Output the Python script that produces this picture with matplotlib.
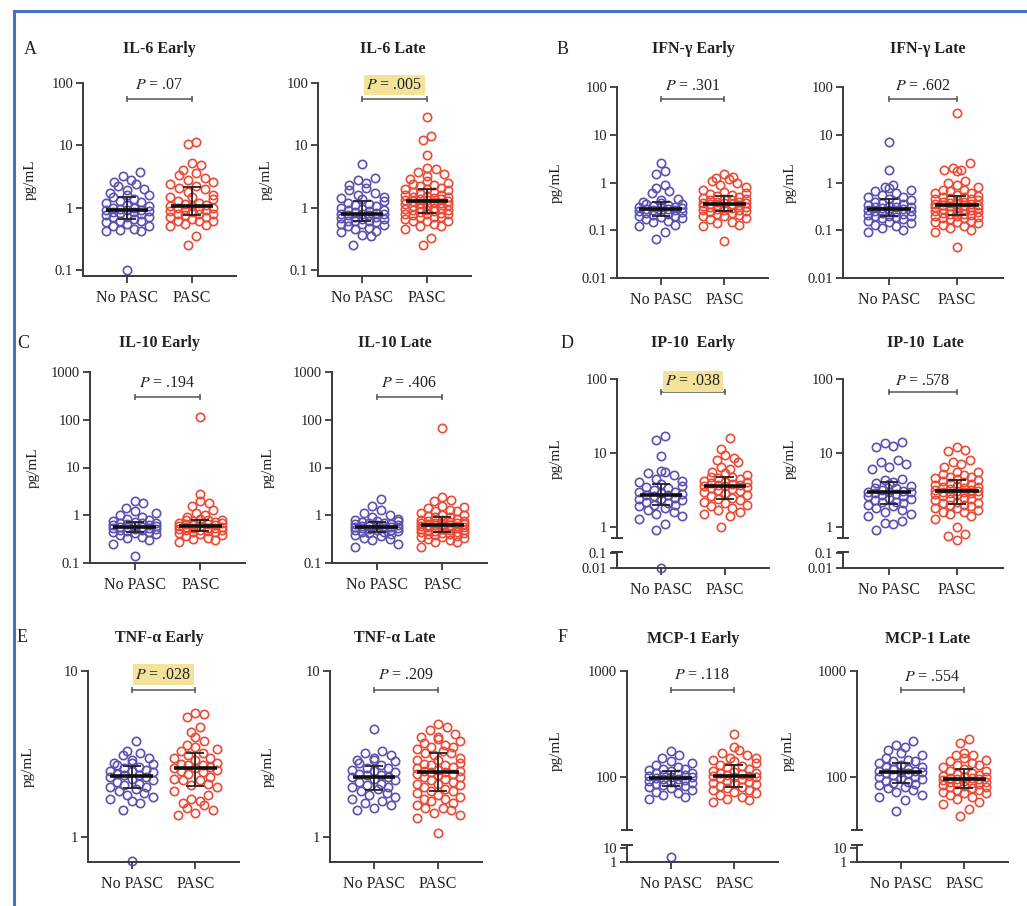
import numpy as np
import matplotlib
matplotlib.use("Agg")
import matplotlib.pyplot as plt
from matplotlib.lines import Line2D
from matplotlib.ticker import NullLocator
import matplotlib.transforms as mtransforms

W, H = 1027, 906
plt.rcParams["font.family"] = ["Liberation Serif", "DejaVu Serif"]
plt.rcParams["mathtext.fontset"] = "stix"

BLUE = "#5a52b0"
RED = "#ea4b37"
AXIS = "#3a3a3a"

GROUPS = ["No PASC", "PASC"]

# cytokine levels, pg/mL
il6_early_no = [0.1, 0.42, 0.42, 0.44, 0.45, 0.5, 0.55, 0.58, 0.6, 0.62, 0.65, 0.7, 0.72, 0.75, 0.8, 0.82,
                0.85, 0.88, 0.9, 0.92, 0.93, 0.95, 1.0, 1.05, 1.1, 1.2, 1.3, 1.4, 1.5, 1.6, 1.7, 1.9, 2.0,
                2.2, 2.4, 2.6, 2.8, 3.2, 3.8, 0.5, 0.7, 0.85, 1.0, 1.25, 1.6]
il6_early_pasc = [0.25, 0.35, 0.5, 0.52, 0.55, 0.6, 0.62, 0.65, 0.7, 0.72, 0.75, 0.78, 0.8, 0.85, 0.88, 0.9,
                  0.95, 1.0, 1.0, 1.05, 1.05, 1.1, 1.2, 1.3, 1.4, 1.5, 1.6, 1.8, 2.0, 2.2, 2.4, 2.6, 2.8,
                  3.0, 3.3, 3.6, 4.0, 4.8, 5.2, 10.5, 11.5, 0.6, 0.8, 0.95, 1.15, 1.5, 2.1]
il6_late_no = [0.25, 0.35, 0.36, 0.4, 0.42, 0.45, 0.48, 0.5, 0.52, 0.55, 0.58, 0.6, 0.6, 0.62, 0.65, 0.68,
               0.7, 0.72, 0.75, 0.78, 0.8, 0.8, 0.82, 0.85, 0.88, 0.9, 0.95, 1.0, 1.05, 1.1, 1.2, 1.3,
               1.4, 1.5, 1.6, 1.7, 1.9, 2.1, 2.3, 2.5, 2.8, 3.0, 5.0, 0.55, 0.65, 0.75, 0.9, 1.15, 1.45]
il6_late_pasc = [0.25, 0.32, 0.45, 0.5, 0.5, 0.55, 0.6, 0.62, 0.65, 0.7, 0.72, 0.75, 0.78, 0.8, 0.82, 0.85,
                 0.88, 0.9, 0.92, 0.95, 1.0, 1.0, 1.05, 1.1, 1.1, 1.15, 1.2, 1.25, 1.3, 1.35, 1.35, 1.4,
                 1.45, 1.5, 1.5, 1.55, 1.6, 1.7, 1.8, 1.9, 2.0, 2.1, 2.2, 2.3, 2.5, 2.7, 2.9, 3.2, 3.5,
                 3.8, 4.2, 4.4, 7.0, 12.0, 14.0, 28.0, 0.6, 0.7, 0.8, 0.9, 1.0, 1.2, 1.3, 1.4, 1.6, 1.8,
                 2.0, 2.4]

ifng_early_no = [0.065, 0.09, 0.12, 0.13, 0.15, 0.16, 0.17, 0.18, 0.19, 0.2, 0.21, 0.22, 0.23, 0.24, 0.25,
                 0.26, 0.27, 0.28, 0.28, 0.29, 0.3, 0.31, 0.32, 0.34, 0.36, 0.38, 0.4, 0.42, 0.45, 0.6,
                 0.65, 0.75, 0.9, 1.5, 1.7, 2.6, 0.2, 0.25, 0.3, 0.35]
ifng_early_pasc = [0.06, 0.12, 0.13, 0.14, 0.15, 0.17, 0.18, 0.2, 0.21, 0.22, 0.23, 0.24, 0.25, 0.26, 0.27,
                   0.28, 0.29, 0.3, 0.31, 0.32, 0.33, 0.34, 0.35, 0.36, 0.37, 0.37, 0.38, 0.4, 0.42, 0.44,
                   0.46, 0.48, 0.5, 0.52, 0.55, 0.58, 0.62, 0.7, 0.8, 0.9, 1.0, 1.1, 1.2, 1.25, 1.3, 1.5,
                   0.2, 0.26, 0.3, 0.4, 0.45, 0.6]
ifng_late_no = [0.09, 0.1, 0.11, 0.12, 0.13, 0.14, 0.15, 0.16, 0.17, 0.18, 0.19, 0.2, 0.2, 0.21, 0.22, 0.23,
                0.24, 0.25, 0.26, 0.27, 0.28, 0.29, 0.3, 0.31, 0.32, 0.34, 0.36, 0.38, 0.4, 0.42, 0.45,
                0.5, 0.55, 0.6, 0.65, 0.7, 0.75, 0.8, 0.9, 1.8, 7.0, 0.2, 0.25, 0.3, 0.4, 0.5]
ifng_late_pasc = [0.045, 0.09, 0.1, 0.11, 0.12, 0.13, 0.14, 0.15, 0.16, 0.17, 0.18, 0.19, 0.2, 0.21, 0.22,
                  0.22, 0.23, 0.24, 0.25, 0.26, 0.27, 0.28, 0.29, 0.3, 0.31, 0.32, 0.33, 0.33, 0.34, 0.35,
                  0.36, 0.38, 0.4, 0.42, 0.44, 0.46, 0.48, 0.5, 0.52, 0.55, 0.6, 0.65, 0.7, 0.8, 0.9, 1.0,
                  1.1, 1.7, 1.8, 1.8, 2.0, 2.5, 28.0, 0.15, 0.18, 0.2, 0.24, 0.28, 0.3, 0.36, 0.4, 0.45,
                  0.5, 0.6, 0.7]

il10_early_no = [0.14, 0.25, 0.3, 0.33, 0.35, 0.38, 0.4, 0.42, 0.44, 0.46, 0.48, 0.5, 0.52, 0.54, 0.55,
                 0.56, 0.57, 0.58, 0.6, 0.62, 0.64, 0.66, 0.68, 0.7, 0.72, 0.75, 0.8, 0.85, 0.9, 1.0, 1.1,
                 1.2, 1.4, 1.8, 2.0, 0.45, 0.52, 0.6, 0.7]
il10_early_pasc = [0.28, 0.3, 0.32, 0.34, 0.36, 0.38, 0.4, 0.42, 0.44, 0.46, 0.48, 0.5, 0.52, 0.54, 0.55,
                   0.56, 0.58, 0.6, 0.6, 0.62, 0.64, 0.66, 0.68, 0.7, 0.72, 0.75, 0.78, 0.8, 0.85, 0.9, 1.0,
                   1.1, 1.3, 1.6, 1.8, 2.0, 2.8, 115.0, 0.45, 0.5, 0.55, 0.65, 0.7, 0.8]
il10_late_no = [0.22, 0.25, 0.3, 0.32, 0.34, 0.36, 0.38, 0.4, 0.42, 0.44, 0.46, 0.48, 0.5, 0.52, 0.53, 0.54,
                0.55, 0.56, 0.57, 0.58, 0.59, 0.6, 0.62, 0.64, 0.66, 0.68, 0.7, 0.72, 0.75, 0.8, 0.85, 0.9,
                1.0, 1.1, 1.3, 1.6, 2.2, 0.45, 0.5, 0.6, 0.65, 0.75]
il10_late_pasc = [0.22, 0.27, 0.28, 0.3, 0.32, 0.33, 0.35, 0.36, 0.38, 0.4, 0.42, 0.43, 0.45, 0.46, 0.48,
                  0.5, 0.51, 0.52, 0.54, 0.55, 0.56, 0.58, 0.6, 0.61, 0.62, 0.63, 0.64, 0.66, 0.68, 0.7,
                  0.72, 0.74, 0.76, 0.8, 0.85, 0.9, 0.95, 1.0, 1.1, 1.2, 1.3, 1.4, 1.5, 1.6, 2.0, 2.1, 2.4,
                  68.0, 0.35, 0.4, 0.45, 0.5, 0.55, 0.6, 0.65, 0.7, 0.8, 0.9, 1.0, 1.2]

ip10_early_no = [0.01, 0.9, 1.1, 1.3, 1.4, 1.5, 1.6, 1.7, 1.8, 1.9, 2.0, 2.1, 2.2, 2.3, 2.4, 2.5, 2.6, 2.7,
                 2.7, 2.8, 2.9, 3.0, 3.2, 3.4, 3.6, 3.8, 4.0, 4.2, 4.5, 5.0, 5.3, 5.5, 5.8, 9.0, 15.0, 17.0,
                 2.0, 2.4, 3.0, 3.5]
ip10_early_pasc = [1.0, 1.4, 1.5, 1.6, 1.7, 1.8, 1.9, 2.0, 2.1, 2.2, 2.3, 2.4, 2.5, 2.7, 2.9, 3.0, 3.2, 3.3,
                   3.4, 3.5, 3.6, 3.7, 3.7, 3.8, 3.9, 4.0, 4.2, 4.4, 4.6, 4.8, 5.0, 5.3, 5.6, 6.0, 6.5, 7.5,
                   8.0, 8.5, 9.5, 11.5, 16.0, 2.6, 3.1, 3.6, 4.1, 4.7]
ip10_late_no = [0.9, 1.1, 1.15, 1.2, 1.4, 1.5, 1.6, 1.7, 1.8, 1.9, 2.0, 2.1, 2.2, 2.3, 2.4, 2.5, 2.6, 2.7,
                2.8, 2.9, 3.0, 3.0, 3.1, 3.2, 3.4, 3.6, 3.8, 4.0, 4.3, 4.5, 6.0, 6.5, 7.0, 7.5, 8.0, 12.0,
                12.5, 13.5, 14.0, 2.2, 2.6, 3.0, 3.4, 3.9]
ip10_late_pasc = [0.7, 0.75, 0.8, 1.0, 1.3, 1.4, 1.5, 1.6, 1.7, 1.8, 1.9, 2.0, 2.0, 2.1, 2.2, 2.3, 2.4, 2.5,
                  2.6, 2.7, 2.8, 2.9, 3.0, 3.0, 3.1, 3.1, 3.2, 3.3, 3.4, 3.5, 3.6, 3.7, 3.8, 4.0, 4.2, 4.4,
                  4.6, 4.8, 5.0, 5.2, 5.5, 6.5, 7.0, 7.5, 8.0, 10.5, 11.0, 12.0, 1.6, 1.8, 2.1, 2.4, 2.7,
                  2.9, 3.2, 3.5, 3.9, 4.3, 4.7, 5.5]

tnfa_early_no = [0.72, 1.45, 1.6, 1.65, 1.7, 1.75, 1.8, 1.85, 1.9, 1.95, 2.0, 2.05, 2.1, 2.15, 2.2, 2.25,
                 2.3, 2.35, 2.35, 2.4, 2.45, 2.5, 2.55, 2.6, 2.65, 2.7, 2.75, 2.8, 2.9, 3.0, 3.1, 3.2, 3.3,
                 3.8, 2.0, 2.3, 2.5, 2.8]
tnfa_early_pasc = [1.35, 1.4, 1.45, 1.5, 1.55, 1.6, 1.65, 1.7, 1.8, 1.9, 2.0, 2.05, 2.1, 2.2, 2.25, 2.3, 2.4,
                   2.5, 2.55, 2.6, 2.6, 2.65, 2.7, 2.75, 2.8, 2.9, 3.0, 3.1, 3.2, 3.3, 3.4, 3.5, 3.6, 3.8,
                   4.0, 4.3, 4.6, 5.3, 5.5, 5.6, 2.2, 2.45, 2.7, 3.0]
tnfa_late_no = [1.45, 1.5, 1.55, 1.6, 1.65, 1.7, 1.75, 1.8, 1.85, 1.9, 1.95, 2.0, 2.05, 2.1, 2.15, 2.2,
                2.25, 2.3, 2.35, 2.35, 2.4, 2.45, 2.5, 2.55, 2.6, 2.7, 2.8, 2.85, 2.9, 3.0, 3.1, 3.2, 3.3,
                4.5, 2.0, 2.3, 2.6, 2.9]
tnfa_late_pasc = [1.05, 1.3, 1.35, 1.4, 1.45, 1.5, 1.55, 1.6, 1.65, 1.7, 1.75, 1.8, 1.85, 1.9, 1.95, 2.0,
                  2.05, 2.1, 2.15, 2.2, 2.25, 2.3, 2.35, 2.4, 2.45, 2.45, 2.5, 2.55, 2.6, 2.65, 2.7, 2.75,
                  2.8, 2.9, 3.0, 3.1, 3.2, 3.3, 3.4, 3.5, 3.6, 3.7, 3.8, 3.9, 4.0, 4.2, 4.4, 4.6, 4.8,
                  1.5, 1.7, 1.9, 2.1, 2.3, 2.4, 2.5, 2.7, 2.9, 3.2, 3.5, 4.0]

mcp1_early_no = [2.3, 62, 65, 68, 70, 72, 75, 78, 80, 82, 84, 86, 88, 90, 92, 94, 96, 98, 100, 100, 102,
                 104, 106, 108, 110, 113, 116, 120, 125, 130, 135, 140, 150, 160, 175, 85, 95, 105, 118]
mcp1_early_pasc = [58, 60, 62, 65, 68, 70, 72, 75, 78, 80, 82, 85, 88, 90, 92, 95, 98, 100, 102, 102, 104,
                   106, 108, 110, 115, 120, 125, 130, 135, 140, 145, 150, 160, 170, 180, 190, 255,
                   75, 88, 100, 112, 128, 150]
mcp1_late_no = [48, 60, 65, 68, 72, 75, 78, 80, 84, 88, 90, 92, 95, 98, 100, 104, 108, 110, 112, 115, 115,
                118, 120, 125, 130, 135, 140, 145, 150, 160, 170, 180, 190, 200, 220, 85, 100, 112, 125,
                140]
mcp1_late_pasc = [43, 50, 55, 58, 62, 65, 68, 70, 72, 75, 78, 80, 82, 84, 86, 88, 90, 92, 94, 96, 97, 98,
                  100, 103, 106, 110, 115, 120, 125, 130, 135, 140, 150, 160, 170, 210, 230, 70, 75, 80,
                  85, 90, 95, 100, 105, 115, 130, 145, 160]

p_values = [".07", ".005", ".301", ".602", ".194", ".406", ".038", ".578", ".028", ".209", ".118", ".554"]
significant = [False, True, False, False, False, False, True, False, True, False, False, False]
titles = ["IL-6 Early", "IL-6 Late", "IFN-\u03b3 Early", "IFN-\u03b3 Late",
          "IL-10 Early", "IL-10 Late", "IP-10  Early", "IP-10  Late",
          "TNF-\u03b1 Early", "TNF-\u03b1 Late", "MCP-1 Early", "MCP-1 Late"]
series = [(il6_early_no, il6_early_pasc), (il6_late_no, il6_late_pasc),
          (ifng_early_no, ifng_early_pasc), (ifng_late_no, ifng_late_pasc),
          (il10_early_no, il10_early_pasc), (il10_late_no, il10_late_pasc),
          (ip10_early_no, ip10_early_pasc), (ip10_late_no, ip10_late_pasc),
          (tnfa_early_no, tnfa_early_pasc), (tnfa_late_no, tnfa_late_pasc),
          (mcp1_early_no, mcp1_early_pasc), (mcp1_late_no, mcp1_late_pasc)]

# axis layouts in pixels: (left, top, right, bottom), y limits, ticks,
# optional lower segment for broken axes, bracket/label heights (axes fraction)
IL6 = dict(ylim=(0.08, 100), ticks=[0.1, 1, 10, 100], labels=["0.1", "1", "10", "100"])
IFN = dict(ylim=(0.01, 100), ticks=[0.01, 0.1, 1, 10, 100], labels=["0.01", "0.1", "1", "10", "100"])
IL10 = dict(ylim=(0.1, 1000), ticks=[0.1, 1, 10, 100, 1000], labels=["0.1", "1", "10", "100", "1000"])
IP10 = dict(ylim=(0.71, 100), ticks=[1, 10, 100], labels=["1", "10", "100"],
            low=dict(ylim=(0.01, 0.11), ticks=[0.01, 0.1], labels=["0.01", "0.1"]))
TNF = dict(ylim=(0.707, 10), ticks=[1, 10], labels=["1", "10"])
MCP = dict(ylim=(31.6, 1000), ticks=[100, 1000], labels=["100", "1000"],
           low=dict(ylim=(1, 16), ticks=[1, 10], labels=["1", "10"]))

panels = [
    dict(box=(83, 83, 236, 276), ax=IL6, br=0.917, pt=0.99, lab=46, title=(159, 49)),
    dict(box=(318, 83, 471, 276), ax=IL6, br=0.917, pt=0.99, lab=45, title=(393, 49)),
    dict(box=(617, 87, 768, 278), ax=IFN, br=0.937, pt=1.005, lab=54, title=(693, 49)),
    dict(box=(843, 87, 1003, 278), ax=IFN, br=0.937, pt=1.005, lab=46, title=(928, 49)),
    dict(box=(90, 372, 245, 563), ax=IL10, br=0.869, pt=0.942, lab=50, title=(159, 343)),
    dict(box=(332, 372, 487, 563), ax=IL10, br=0.869, pt=0.942, lab=57, title=(395, 343)),
    dict(box=(617, 379, 769, 538), low=(552, 568), ax=IP10, br=0.92, pt=0.985, lab=54, title=(693, 343)),
    dict(box=(843, 379, 1003, 538), low=(552, 568), ax=IP10, br=0.92, pt=0.985, lab=46, title=(925, 343)),
    dict(box=(88, 671, 239, 862), ax=TNF, br=0.90, pt=0.98, lab=53, title=(159, 638)),
    dict(box=(330, 671, 482, 862), ax=TNF, br=0.90, pt=0.98, lab=55, title=(395, 638)),
    dict(box=(627, 671, 778, 830), low=(845, 862), ax=MCP, br=0.88, pt=0.975, lab=64, title=(693, 639)),
    dict(box=(857, 671, 1008, 830), low=(845, 862), ax=MCP, br=0.88, pt=0.96, lab=62, title=(928, 639)),
]
letters = [("A", 30, 50), ("B", 563, 50), ("C", 23, 343), ("D", 567, 343), ("E", 22, 638), ("F", 563, 638)]

XLIM = (-0.68, 1.68)
MARK = 8.6  # marker diameter in pixels
MS = 6.0


def rect(l, t, r, b):
    return [l / W, 1 - b / H, (r - l) / W, (b - t) / H]


def swarm(vals, px_dec, px_unit, d=MARK, maxcols=6):
    # Prism-style scatter: rows of similar values spread sideways
    v = np.sort(np.asarray(vals, float))
    ly = np.log10(v) * px_dec
    xs = np.zeros(len(v))
    i = 0
    while i < len(v):
        j = i
        while j < len(v) and ly[j] - ly[i] < d * 1.3 and j - i < 7:
            j += 1
        n = j - i
        if n <= maxcols:
            offs = (np.arange(n) - (n - 1) / 2) * d
        else:
            half = (maxcols - 1) / 2 * d
            offs = np.linspace(-half, half, n)
        order = np.argsort((np.arange(n) * 0.618) % 1)
        xs[i:j] = offs[order] / px_unit
        i = j
    return v, xs


def style_axis(ax, spec):
    ax.set_yscale("log")
    ax.set_ylim(*spec["ylim"])
    ax.set_xlim(*XLIM)
    ax.set_yticks(spec["ticks"])
    ax.set_yticklabels(spec["labels"])
    ax.yaxis.set_minor_locator(NullLocator())
    for s in ["top", "right"]:
        ax.spines[s].set_visible(False)
    for s in ["left", "bottom"]:
        ax.spines[s].set_color(AXIS)
        ax.spines[s].set_linewidth(1.4)
    ax.tick_params(direction="out", length=5, width=1.3, colors=AXIS, labelsize=10.5,
                   labelcolor="#222222", pad=2)
    ax.patch.set_alpha(0)


def draw_points(ax, vals, box, ylim):
    l, t, r, b = box
    px_dec = (b - t) / (np.log10(ylim[1]) - np.log10(ylim[0]))
    px_unit = (r - l) / (XLIM[1] - XLIM[0])
    for k, (grp, col) in enumerate(zip(vals, [BLUE, RED])):
        if len(grp) == 0:
            continue
        v, xs = swarm(grp, px_dec, px_unit)
        ax.plot(k + xs, v, "o", ms=MS, mfc="none", mec=col, mew=1.2, clip_on=False, zorder=2)


fig = plt.figure(figsize=(W / 100, H / 100), dpi=100)

for p, (no, pasc), title, pv, sig in zip(panels, series, titles, p_values, significant):
    spec = p["ax"]
    l, t, r, b = p["box"]
    ax = fig.add_axes(rect(l, t, r, b))
    style_axis(ax, spec)
    lo = spec["ylim"][0]
    upper = [[v for v in g if v >= lo] for g in (no, pasc)]
    draw_points(ax, upper, p["box"], spec["ylim"])

    # median with interquartile range
    for k, grp in enumerate((no, pasc)):
        med = np.median(grp)
        q1, q3 = np.percentile(grp, [25, 75])
        ax.errorbar(k, med, yerr=[[med - q1], [q3 - med]], fmt="none", ecolor="#222222",
                    elinewidth=1.3, capsize=6.5, capthick=1.3, zorder=4)
        ax.plot([k - 0.33, k + 0.33], [med, med], color="#111111", lw=2.6, zorder=5,
                solid_capstyle="butt")

    ax.set_xticks([0, 1])
    if "low" in p:
        ax.spines["bottom"].set_visible(False)
        ax.tick_params(axis="x", bottom=False, labelbottom=False)
        ax.plot([0], [0], marker="_", ms=9, mew=1.4, color=AXIS, transform=ax.transAxes,
                clip_on=False)
        lt, lb = p["low"]
        lax = fig.add_axes(rect(l, lt, r, lb))
        style_axis(lax, spec["low"])
        lax.plot([0], [1], marker="_", ms=9, mew=1.4, color=AXIS, transform=lax.transAxes,
                 clip_on=False)
        lower = [[v for v in g if v < lo] for g in (no, pasc)]
        for k, (grp, col) in enumerate(zip(lower, [BLUE, RED])):
            if grp:
                lax.plot([k] * len(grp), grp, "o", ms=MS, mfc="none", mec=col, mew=1.2,
                         clip_on=False, zorder=2)
        xax = lax
    else:
        xax = ax
    xax.set_xticks([0, 1])
    xax.set_xticklabels(GROUPS, fontsize=11.5, color="#222222")
    xax.tick_params(axis="x", pad=5)

    ax.set_ylabel("pg/mL", fontsize=11, color="#222222")
    ax.yaxis.set_label_coords(-p["lab"] / (r - l), 0.5)

    # comparison bracket and p value
    tr = mtransforms.blended_transform_factory(ax.transData, ax.transAxes)
    ax.plot([0, 1], [p["br"], p["br"]], color="#555555", lw=1.1, marker="|", ms=5, mew=1.1,
            transform=tr, clip_on=False)
    box = dict(boxstyle="square,pad=0.15", fc="#f3e39a", ec="none") if sig else None
    ax.text(0.5, p["pt"], r"$P$ = " + pv, transform=tr, ha="center", va="center",
            fontsize=11.5, color="#222222", bbox=box, clip_on=False)

    fig.text(p["title"][0] / W, 1 - p["title"][1] / H, title, ha="center", va="center",
             fontsize=11.5, fontweight="bold", color="#222222")

for letter, x, y in letters:
    fig.text(x / W, 1 - y / H, letter, ha="center", va="center", fontsize=13, color="#222222")

# blue frame on the top and left edges
frame = "#4472c4"
fig.add_artist(Line2D([14 / W, 14 / W], [0, 1 - 11 / H], transform=fig.transFigure, color=frame, lw=2.2))
fig.add_artist(Line2D([14 / W, 1], [1 - 11 / H, 1 - 11 / H], transform=fig.transFigure, color=frame, lw=2.2))

fig.savefig("out.png", dpi=100, facecolor="white")
